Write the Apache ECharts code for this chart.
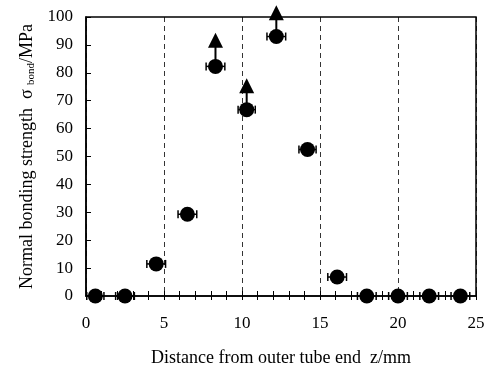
<!DOCTYPE html>
<html>
<head>
<meta charset="utf-8">
<script src="https://cdn.jsdelivr.net/npm/echarts@6/dist/echarts.min.js"></script>
<style>
  html, body { margin: 0; padding: 0; background: #fff; }
  #chart { width: 488px; height: 367px; }
</style>
</head>
<body>
<div id="chart"></div>
<script>
// distance from outer tube end (mm) and bonding strength (MPa)
const distances = [0.6, 2.5, 4.5, 6.5, 8.3, 10.3, 12.2, 14.2, 16.1, 18.0, 20.0, 22.0, 24.0]
const strengths = [0, 0, 11.5, 29.3, 82.3, 66.8, 93.0, 52.5, 6.8, 0, 0, 0, 0]
const distErr = [0.55, 0.6, 0.6, 0.6, 0.6, 0.55, 0.6, 0.55, 0.6, 0.6, 0.6, 0.6, 0.6]
// lower-bound points: arrow head value (null = no arrow)
const arrowTo = [null, null, null, null, 91.5, 75.2, 101.3, null, null, null, null, null, null]
const xTicks = [0, 5, 10, 15, 20, 25]
const yTicks = [0, 10, 20, 30, 40, 50, 60, 70, 80, 90, 100]

const font = 'Liberation Serif'
const chart = echarts.init(document.getElementById('chart'), null, { renderer: 'canvas' })

const points = distances.map((d, i) => [d, strengths[i]])
const bars = distances.map((d, i) => [d, strengths[i], distErr[i]])
const arrows = distances
	.map((d, i) => [d, strengths[i], arrowTo[i]])
	.filter((a) => a[2] !== null)

const option = {
	backgroundColor: '#fff',
	animation: false,
	grid: {
		left: 86,
		right: 12,
		top: 17,
		bottom: 71,
		outerBoundsMode: 'none',
		show: true,
		borderColor: '#000',
		borderWidth: 1.5,
	},
	xAxis: [
		{
			type: 'value',
			min: xTicks[0],
			max: xTicks[xTicks.length - 1],
			interval: 5,
			name: 'Distance from outer tube end  z/mm',
			nameLocation: 'middle',
			nameGap: 53,
			nameTextStyle: { fontFamily: font, fontSize: 18, color: '#000' },
			axisLine: { lineStyle: { color: '#000', width: 1.5 } },
			axisTick: { inside: true, length: 5, lineStyle: { color: '#000' } },
			minorTick: { show: true, splitNumber: 5, length: 5, lineStyle: { color: '#000' } },
			axisLabel: { fontFamily: font, fontSize: 17, color: '#000', margin: 19 },
			splitLine: { show: true, lineStyle: { color: '#000', type: [5, 4], width: 0.8 } },
		},
		{
			type: 'value',
			position: 'bottom',
			min: xTicks[0],
			max: xTicks[xTicks.length - 1],
			interval: 5,
			axisLine: { show: false },
			axisTick: { inside: false, length: 4, lineStyle: { color: '#000' } },
			minorTick: { show: true, splitNumber: 5, length: 4, lineStyle: { color: '#000' } },
			axisLabel: { show: false },
			splitLine: { show: false },
		},
	],
	yAxis: {
		type: 'value',
		min: yTicks[0],
		max: yTicks[yTicks.length - 1],
		interval: 10,
		name: '{a|Normal bonding strength  σ }{s|bond}{a|/MPa}',
		nameLocation: 'middle',
		nameGap: 42,
		nameTextStyle: {
			color: '#000',
			rich: {
				a: { fontFamily: font, fontSize: 18, color: '#000' },
				s: { fontFamily: font, fontSize: 11, color: '#000', verticalAlign: 'bottom', padding: [7, 0, 0, 0] },
			},
		},
		axisLine: { lineStyle: { color: '#000', width: 1.5 } },
		axisTick: { inside: true, length: 5, lineStyle: { color: '#000' } },
		axisLabel: { fontFamily: font, fontSize: 17, color: '#000', margin: 13 },
		splitLine: { show: false },
	},
	series: [
		{
			// horizontal error bars
			type: 'custom',
			data: bars,
			clip: false,
			z: 3,
			renderItem: function (params, api) {
				const x = api.value(0)
				const y = api.value(1)
				const e = api.value(2)
				const l = api.coord([x - e, y])
				const r = api.coord([x + e, y])
				const s = { stroke: '#000', lineWidth: 1.5 }
				return {
					type: 'group',
					children: [
						{ type: 'line', shape: { x1: l[0], y1: l[1], x2: r[0], y2: r[1] }, style: s },
						{ type: 'line', shape: { x1: l[0], y1: l[1] - 4, x2: l[0], y2: l[1] + 4 }, style: s },
						{ type: 'line', shape: { x1: r[0], y1: r[1] - 4, x2: r[0], y2: r[1] + 4 }, style: s },
					],
				}
			},
		},
		{
			// arrows for lower-bound values
			type: 'custom',
			data: arrows,
			clip: false,
			z: 3,
			renderItem: function (params, api) {
				const p = api.coord([api.value(0), api.value(1)])
				const t = api.coord([api.value(0), api.value(2)])
				return {
					type: 'group',
					children: [
						{
							type: 'line',
							shape: { x1: p[0], y1: p[1], x2: t[0], y2: t[1] + 6 },
							style: { stroke: '#000', lineWidth: 2 },
						},
						{
							type: 'polygon',
							shape: { points: [[t[0], t[1] - 8], [t[0] - 7.5, t[1] + 7], [t[0] + 7.5, t[1] + 7]] },
							style: { fill: '#000' },
						},
					],
				}
			},
		},
		{
			type: 'scatter',
			data: points,
			symbol: 'circle',
			symbolSize: 15,
			clip: false,
			z: 4,
			itemStyle: { color: '#000', opacity: 1 },
		},
	],
}

chart.setOption(option)
</script>
</body>
</html>
